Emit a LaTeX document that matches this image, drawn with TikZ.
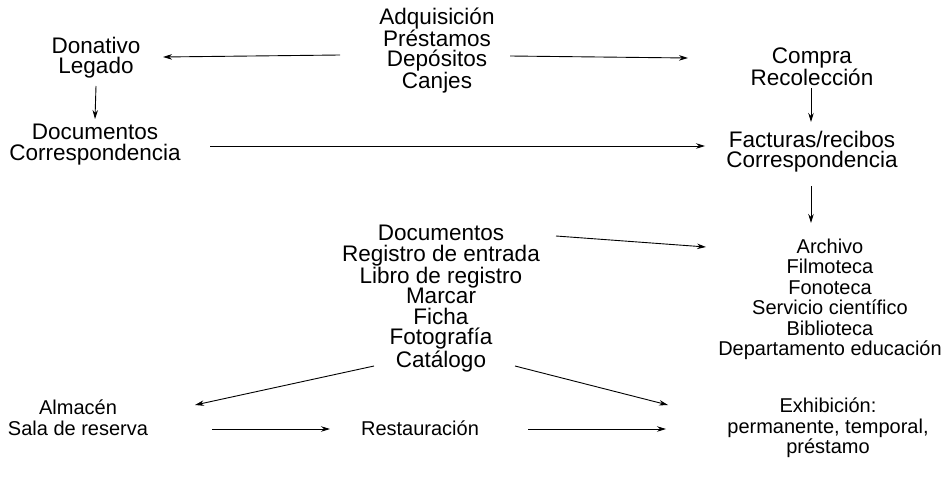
\documentclass[tikz,border=0pt]{standalone}
\usepackage{fontspec}
\setmainfont{Liberation Sans}
\usetikzlibrary{arrows.meta}
\begin{document}
\begin{tikzpicture}[x=1pt,y=1pt,
  lbl/.style={align=center,inner sep=0pt,font=\fontsize{22.5}{20.5}\selectfont},
  lbls/.style={align=center,inner sep=0pt,font=\fontsize{20}{20.5}\selectfont},
  arr/.style={-{Stealth[length=9pt,width=5.5pt]},line width=0.9pt}]
\useasboundingbox (0,0) rectangle (944,-492);
\node[lbl] (acq) at (437,-50.5) {Adquisición\\Préstamos\\Depósitos\\Canjes};
\node[lbl] (don) at (96,-57.5) {Donativo\\Legado};
\node[lbl] (com) at (812,-67) {Compra\\Recolección};
\node[lbl] (docl) at (95,-144.5) {Documentos\\Correspondencia};
\node[lbl] (fac) at (812,-151.5) {Facturas/recibos\\Correspondencia};
\node[lbl] (mid) at (441,-298.5) {Documentos\\Registro de entrada\\Libro de registro\\Marcar\\Ficha\\Fotografía\\Catálogo};
\node[lbls] (arch) at (830,-299.5) {Archivo\\Filmoteca\\Fonoteca\\Servicio científico\\Biblioteca\\Departamento educación};
\node[lbls] (alm) at (78,-417.5) {Almacén\\Sala de reserva};
\node[lbls] (res) at (420,-428) {Restauración};
\node[lbls] (exh) at (828,-428) {Exhibición:\\permanente, temporal,\\préstamo};

\draw[arr] ([shift={(-97,-4.5)}]acq.center) -- ([shift={(67,0.5)}]don.center);
\draw[arr] ([shift={(73,-5.5)}]acq.center) -- ([shift={(-124,9)}]com.center);
\draw[arr] ([shift={(0,-28.5)}]don.center) -- ([shift={(0,25.5)}]docl.center);
\draw[arr] ([shift={(115,-1.5)}]docl.center) -- ([shift={(-107,5.5)}]fac.center);
\draw[arr] ([shift={(-1,-21)}]com.center) -- ([shift={(-1,29.5)}]fac.center);
\draw[arr] ([shift={(-1,-34.5)}]fac.center) -- ([shift={(-19,76.5)}]arch.center);
\draw[arr] ([shift={(115,62.5)}]mid.center) -- ([shift={(-124,52.5)}]arch.center);
\draw[arr] ([shift={(-67,-67.5)}]mid.center) -- ([shift={(117,12.5)}]alm.center);
\draw[arr] ([shift={(74,-67.5)}]mid.center) -- ([shift={(-160,23)}]exh.center);
\draw[arr] ([shift={(134,-11.5)}]alm.center) -- ([shift={(-90,-1)}]res.center);
\draw[arr] ([shift={(108,-1)}]res.center) -- ([shift={(-162,-1)}]exh.center);
\end{tikzpicture}
\end{document}
